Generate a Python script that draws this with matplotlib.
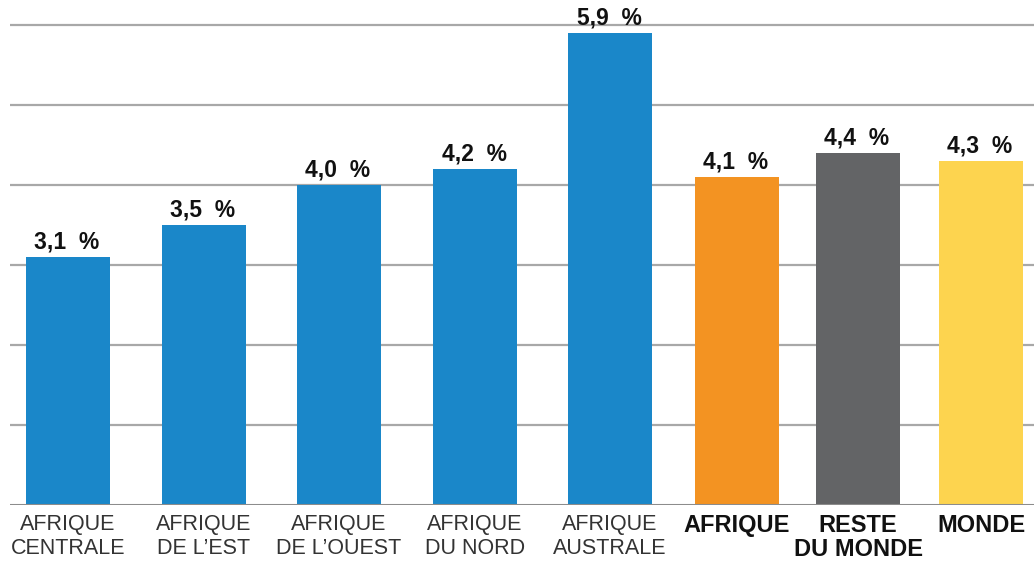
import matplotlib.pyplot as plt
from matplotlib import font_manager

# data
categories = ["AFRIQUE\nCENTRALE", "AFRIQUE\nDE L\u2019EST", "AFRIQUE\nDE L\u2019OUEST",
              "AFRIQUE\nDU NORD", "AFRIQUE\nAUSTRALE", "AFRIQUE", "RESTE\nDU MONDE", "MONDE"]
values = [3.1, 3.5, 4.0, 4.2, 5.9, 4.1, 4.4, 4.3]
value_labels = ["3,1  %", "3,5  %", "4,0  %", "4,2  %", "5,9  %", "4,1  %", "4,4  %", "4,3  %"]
bold_cats = [False, False, False, False, False, True, True, True]

# layout (pixel-like x positions of bar centres)
positions = [68, 204, 339, 475, 610, 737, 858, 981]
colors = ["#1a87c9"] * 5 + ["#f39322", "#636466", "#fdd44f"]

names = {f.name for f in font_manager.fontManager.ttflist}
font = "Liberation Sans Narrow" if "Liberation Sans Narrow" in names else "Liberation Sans"
plt.rcParams["font.family"] = [font, "DejaVu Sans"]

fig = plt.figure(figsize=(10.34, 5.62), dpi=100)
ax = fig.add_axes([10 / 1034, 57 / 562, 1024 / 1034, 504 / 562])
ax.set_xlim(10, 1034)
ax.set_ylim(0, 6.3)

for y in range(1, 7):
    ax.axhline(y, color="#a8a8a8", lw=1.6, zorder=0)
ax.axhline(0, color="#8c8c8c", lw=2.2, zorder=3)

ax.bar(positions, values, width=84, color=colors, zorder=2)

for x, v, lab in zip(positions, values, value_labels):
    ax.text(x - 1, v + 0.04, lab, ha="center", va="bottom", fontsize=16.5,
            fontweight="bold", color="#111111")

for x, cat, b in zip(positions, categories, bold_cats):
    ax.text(x, -0.11, cat, ha="center", va="top",
            fontsize=17 if b else 15.5,
            fontweight="bold" if b else "normal",
            color="#111111" if b else "#333333",
            linespacing=1.05 if b else 1.2)

ax.axis("off")
fig.savefig("out.png", dpi=100)
